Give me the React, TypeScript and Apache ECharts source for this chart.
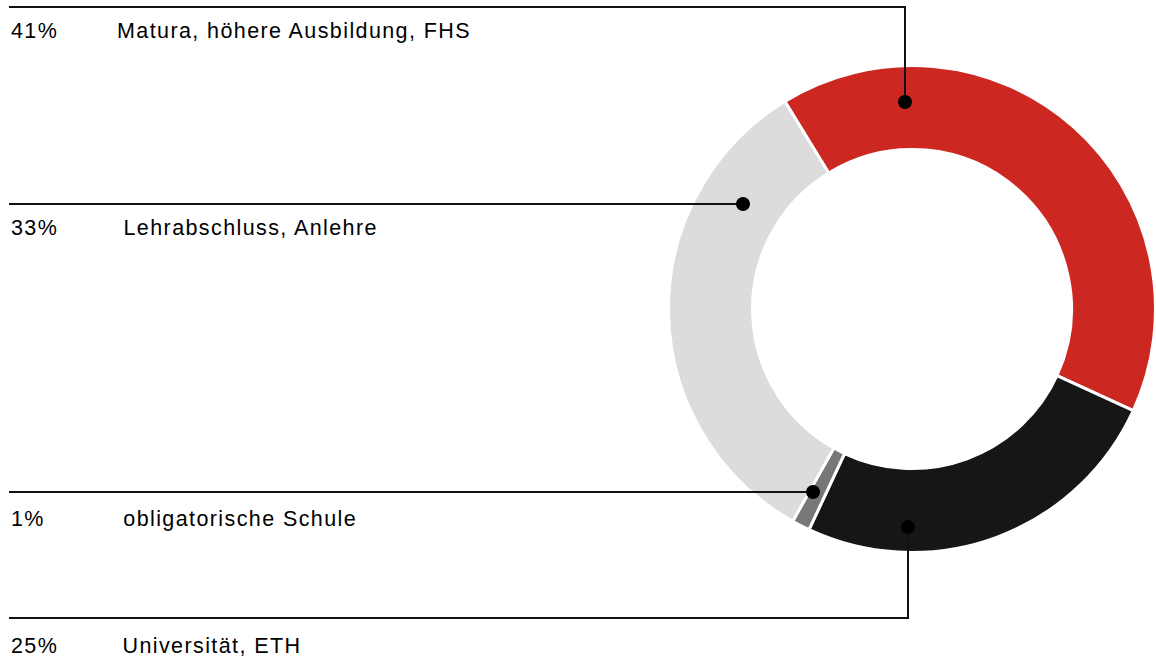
import React, { useEffect, useRef } from "react";
import * as echarts from "echarts";

// ---- data ----
const categories = [
  "Matura, höhere Ausbildung, FHS",
  "Universität, ETH",
  "obligatorische Schule",
  "Lehrabschluss, Anlehre",
];
const shares = [40.6, 25.1, 1.2, 33.1];

// ---- styles / layout (not data) ----
const colors = ["#CD2722", "#161616", "#777777", "#DCDCDC"];
const CENTER = [912, 309];
const RADIUS = [159.5, 243.5];
const START_ANGLE = 121.5;
const FONT = '21.5px "Liberation Sans", Arial, sans-serif';
const leaders = [
  { angle: 92, r: 207, lineY: 7, textY: 31.4, nameX: 117 },
  { angle: -91, r: 218, lineY: 618, textY: 646.4, nameX: 122.5 },
  { angle: -118.4, r: 208, lineY: null as number | null, textY: 518.9, nameX: 123.3 },
  { angle: 148.2, r: 199, lineY: null as number | null, textY: 228.4, nameX: 123.5 },
];

export default function App() {
  const ref = useRef<HTMLDivElement>(null);

  useEffect(() => {
    document.body.style.margin = "0";
    if (!ref.current) return;
    const chart = echarts.init(ref.current, undefined, { renderer: "svg" });

    const graphics: any[] = [];
    leaders.forEach((l, i) => {
      const a = (l.angle * Math.PI) / 180;
      const dx = Math.round(CENTER[0] + l.r * Math.cos(a));
      const dy = Math.round(CENTER[1] - l.r * Math.sin(a));
      const lineStyle = { stroke: "#111", lineWidth: 2, fill: null };
      if (l.lineY !== null) {
        graphics.push({
          type: "polyline",
          z: 100,
          shape: { points: [[9, l.lineY], [dx, l.lineY], [dx, dy]] },
          style: lineStyle,
        });
      } else {
        graphics.push({
          type: "line",
          z: 100,
          shape: { x1: 9, y1: dy, x2: dx, y2: dy },
          style: lineStyle,
        });
      }
      graphics.push({
        type: "circle",
        z: 101,
        shape: { cx: dx, cy: dy, r: 7 },
        style: { fill: "#000" },
      });
      graphics.push({
        type: "text",
        z: 101,
        x: 11,
        y: l.textY,
        style: {
          text: Math.round(shares[i]) + "%",
          font: FONT,
          fill: "#000",
          textAlign: "left",
          textVerticalAlign: "middle",
        },
      });
      graphics.push({
        type: "text",
        z: 101,
        x: l.nameX,
        y: l.textY,
        style: {
          text: categories[i],
          font: FONT,
          fill: "#000",
          textAlign: "left",
          textVerticalAlign: "middle",
        },
      });
    });

    chart.setOption({
      animation: false,
      series: [
        {
          type: "pie",
          center: CENTER,
          radius: RADIUS,
          startAngle: START_ANGLE,
          clockwise: true,
          silent: true,
          avoidLabelOverlap: false,
          label: { show: false },
          labelLine: { show: false },
          emphasis: { disabled: true },
          itemStyle: { borderColor: "#ffffff", borderWidth: 3 },
          data: categories.map((name, i) => ({
            name,
            value: shares[i],
            itemStyle: { color: colors[i] },
          })),
        },
      ],
      graphic: graphics,
    });

    return () => chart.dispose();
  }, []);

  return (
    <>
      <style>{`.edu-chart text { letter-spacing: 1.4px; }`}</style>
      <div
        ref={ref}
        className="edu-chart"
        style={{ width: 1156, height: 660, position: "absolute", left: 0, top: 0 }}
      />
    </>
  );
}
